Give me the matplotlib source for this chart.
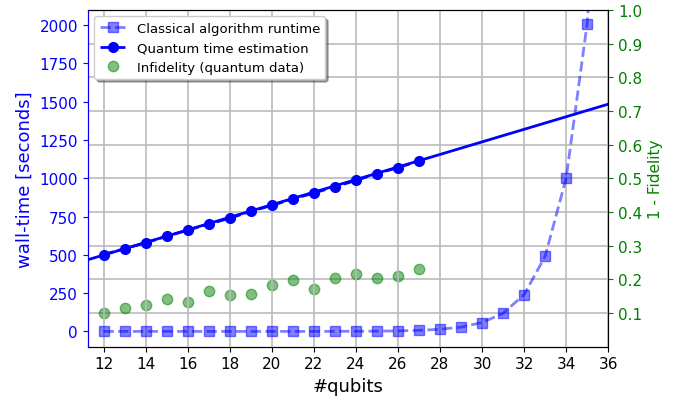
import matplotlib
matplotlib.use('Agg')
import matplotlib.pyplot as plt

# qubit counts and classical runtime (seconds)
classical_n = [12, 13, 14, 15, 16, 17, 18, 19, 20, 21, 22, 23, 24, 25, 26, 27, 28, 29, 30, 31, 32, 33, 34, 35, 36]
classical_t = [0.0003, 0.0005, 0.001, 0.002, 0.004, 0.008, 0.016, 0.03, 0.06, 0.12, 0.25, 0.5, 0.9, 1.8,
               3.5, 7, 14, 28, 58, 118, 240, 490, 1000, 2010, 4020]

quantum_n = [12, 13, 14, 15, 16, 17, 18, 19, 20, 21, 22, 23, 24, 25, 26, 27]
quantum_t = [502, 540, 579, 621, 661, 701, 739, 784, 823, 864, 904, 944, 986, 1030, 1070, 1112]

# linear extrapolation of the quantum runtime (endpoints)
fit_n = [11.25, 36]
fit_t = [468, 1484]

infidelity = [0.10, 0.116, 0.125, 0.143, 0.133, 0.164, 0.154, 0.158, 0.184, 0.198, 0.171, 0.203, 0.215, 0.205, 0.209, 0.232]

fig, ax1 = plt.subplots(figsize=(6.75, 4.02), dpi=100)
fig.subplots_adjust(left=0.130, right=0.901, top=0.973, bottom=0.135)
ax2 = ax1.twinx()

l1, = ax1.plot(classical_n, classical_t, 's--', color='blue', alpha=0.5, lw=2, ms=7,
               label='Classical algorithm runtime')
ax1.plot(fit_n, fit_t, '-', color='blue', lw=2)
l2, = ax1.plot(quantum_n, quantum_t, 'o--', color='blue', lw=2, ms=7,
               label='Quantum time estimation')
l3, = ax2.plot(quantum_n, infidelity, 'o', color='green', alpha=0.5, ms=7.5,
               label='Infidelity (quantum data)')

ax1.set_xlim(11.25, 36)
ax1.set_ylim(-100, 2100)
ax2.set_ylim(0, 1.0)
ax1.set_xticks(range(12, 37, 2))
ax1.set_yticks(range(0, 2001, 250))
ax2.set_yticks([0.1, 0.2, 0.3, 0.4, 0.5, 0.6, 0.7, 0.8, 0.9, 1.0])

ax1.xaxis.grid(True, color='#bbbbbb', lw=1.2)
ax2.yaxis.grid(True, color='#bbbbbb', lw=1.2)
ax1.set_axisbelow(True)
ax2.set_zorder(ax1.get_zorder() - 1)
ax1.patch.set_visible(False)

ax1.set_xlabel('#qubits', fontsize=13)
ax1.set_ylabel('wall-time [seconds]', fontsize=13, color='blue')
ax2.set_ylabel('1 - Fidelity', fontsize=11, color='green')
ax1.tick_params(axis='x', labelsize=11)
ax1.tick_params(axis='y', labelsize=11, colors='blue')
ax2.tick_params(axis='y', labelsize=11, colors='green')
ax1.spines['left'].set_color('blue')
ax2.spines['left'].set_color('blue')
ax2.spines['right'].set_color('green')

ax1.legend(handles=[l1, l2, l3], loc='upper left', fontsize=9.5, shadow=True)

fig.savefig('out.png')
